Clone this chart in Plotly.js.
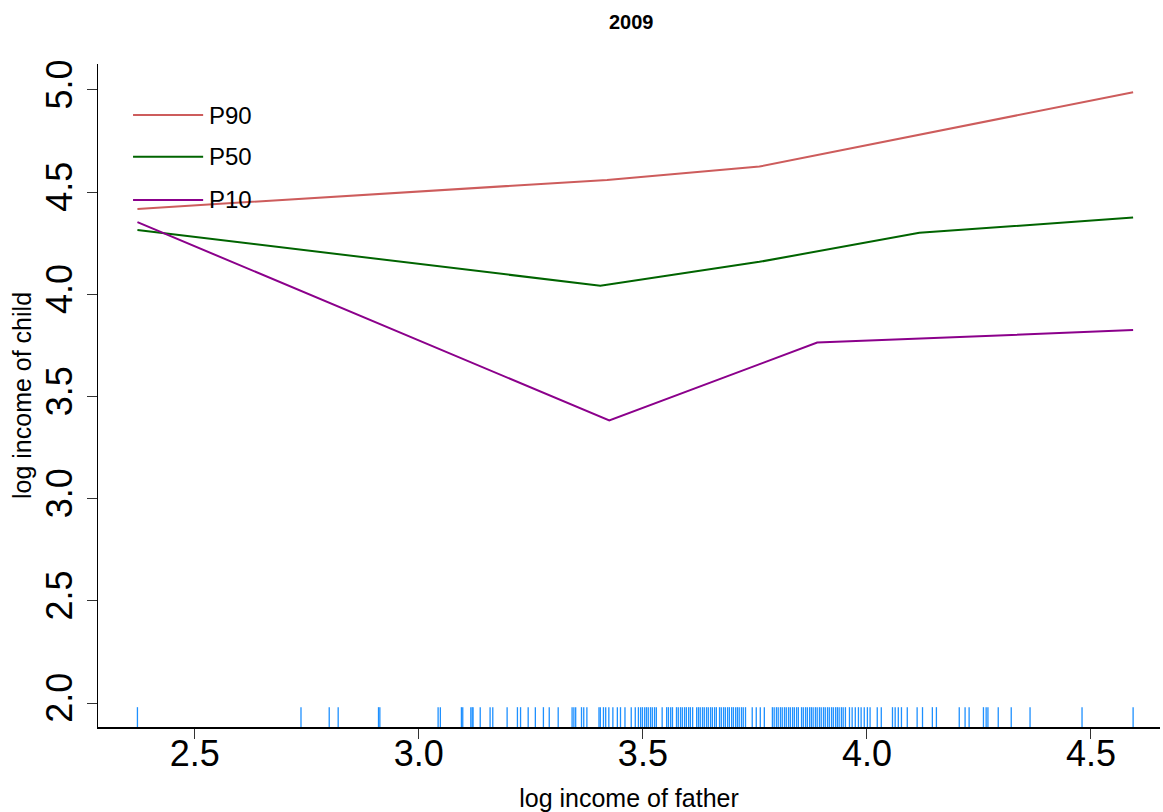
<!DOCTYPE html>
<html>
<head>
<meta charset="utf-8">
<script src="https://cdn.plot.ly/plotly-3.0.1.min.js"></script>
<style>
  html, body { margin: 0; padding: 0; background: #fff; }
  #chart { width: 1163px; height: 812px; }
</style>
</head>
<body>
<div id="chart"></div>
<script>
// Conditional quantiles of child log income by father's log income, 2009
const seriesNames = ["P90", "P50", "P10"];

const p90X = [2.372, 3.420, 3.760, 4.594];
const p90Y = [4.418, 4.560, 4.625, 4.989];

const p50X = [2.372, 3.405, 3.760, 4.117, 4.594];
const p50Y = [4.315, 4.042, 4.159, 4.301, 4.376];

const p10X = [2.372, 3.425, 3.889, 4.594];
const p10Y = [4.353, 3.383, 3.764, 3.825];

// observed father log incomes (rug)
const fatherIncome = [
  2.372, 2.737, 2.800, 2.820, 2.910, 2.913, 3.043, 3.048, 3.095, 3.098,
  3.116, 3.119, 3.121, 3.137, 3.159, 3.165, 3.197, 3.220, 3.227, 3.244,
  3.260, 3.278, 3.291, 3.311, 3.342, 3.346, 3.350, 3.363, 3.368, 3.375,
  3.402, 3.405, 3.412, 3.417, 3.424, 3.433, 3.443, 3.450, 3.460, 3.474,
  3.483, 3.490, 3.495, 3.499, 3.504, 3.508, 3.512, 3.517, 3.521, 3.526,
  3.530, 3.543, 3.553, 3.557, 3.562, 3.566, 3.575, 3.579, 3.584, 3.588,
  3.593, 3.597, 3.602, 3.606, 3.611, 3.620, 3.624, 3.628, 3.633, 3.637,
  3.642, 3.646, 3.651, 3.655, 3.660, 3.664, 3.671, 3.675, 3.680, 3.684,
  3.689, 3.693, 3.698, 3.702, 3.707, 3.711, 3.715, 3.720, 3.724, 3.729,
  3.744, 3.753, 3.762, 3.771, 3.789, 3.793, 3.798, 3.802, 3.807, 3.811,
  3.816, 3.820, 3.825, 3.829, 3.834, 3.838, 3.843, 3.847, 3.854, 3.858,
  3.863, 3.867, 3.872, 3.876, 3.880, 3.885, 3.889, 3.894, 3.898, 3.903,
  3.907, 3.912, 3.916, 3.921, 3.925, 3.930, 3.934, 3.938, 3.943, 3.947,
  3.952, 3.961, 3.967, 3.974, 3.981, 3.987, 3.994, 4.001, 4.007, 4.023,
  4.032, 4.057, 4.063, 4.070, 4.077, 4.090, 4.112, 4.124, 4.146, 4.155,
  4.206, 4.219, 4.228, 4.260, 4.266, 4.270, 4.293, 4.322, 4.364, 4.480,
  4.594
];

const xTicks = [2.5, 3.0, 3.5, 4.0, 4.5];
const yTicks = [2.0, 2.5, 3.0, 3.5, 4.0, 4.5, 5.0];

const colors = ["#CD5C5C", "#006400", "#8B008B"];
const rugColor = "#1E90FF";
const xRange = [2.284, 4.654];
const yRange = [1.883, 5.127];
const rugTop = 1.98;
const font = "Liberation Sans, Arial, sans-serif";

// rug: one short vertical segment per observation
const rugX = [], rugY = [];
fatherIncome.forEach(v => { rugX.push(v, v, null); rugY.push(yRange[0], rugTop, null); });

const traces = [
  { x: rugX, y: rugY, mode: "lines", line: { color: rugColor, width: 1.3 },
    hoverinfo: "skip", showlegend: false },
  { x: p90X, y: p90Y, name: seriesNames[0], mode: "lines",
    line: { color: colors[0], width: 2 }, showlegend: false },
  { x: p50X, y: p50Y, name: seriesNames[1], mode: "lines",
    line: { color: colors[1], width: 2 }, showlegend: false },
  { x: p10X, y: p10Y, name: seriesNames[2], mode: "lines",
    line: { color: colors[2], width: 2 }, showlegend: false }
];

// hand-drawn key in the upper left corner
const keyRows = [0.923, 0.860, 0.795];
const shapes = seriesNames.map((n, i) => ({
  type: "line", xref: "paper", yref: "paper",
  x0: 0.033, x1: 0.099, y0: keyRows[i], y1: keyRows[i],
  line: { color: colors[i], width: 2 }
}));
const annotations = seriesNames.map((n, i) => ({
  xref: "paper", yref: "paper", x: 0.103, y: keyRows[i],
  xanchor: "left", yanchor: "middle", showarrow: false,
  text: n, font: { family: font, size: 24, color: "#000" }
}));

const axisCommon = {
  showgrid: false, zeroline: false, showline: true,
  linecolor: "#000", linewidth: 1.5,
  ticks: "outside", ticklen: 10, tickwidth: 1, tickcolor: "#333",
  tickformat: ".1f",
  tickfont: { family: font, size: 36, color: "#000" }
};

const layout = {
  width: 1163, height: 812,
  paper_bgcolor: "#fff", plot_bgcolor: "#fff",
  margin: { l: 98, r: 3, t: 64, b: 85 },
  title: { text: "<b>2009</b>", x: 0.5427, xanchor: "center", y: 0.973, yanchor: "middle",
    font: { family: "Liberation Sans Narrow, Liberation Sans, Arial", size: 20, color: "#000" } },
  xaxis: Object.assign({}, axisCommon, {
    range: xRange, tickmode: "array", tickvals: xTicks,
    ticklabelstandoff: -16,
    title: { text: "log income of father", standoff: 34,
      font: { family: font, size: 25, color: "#000" } }
  }),
  yaxis: Object.assign({}, axisCommon, {
    range: yRange, tickmode: "array", tickvals: yTicks, tickangle: -90,
    title: { text: "log income of child", standoff: 0,
      font: { family: font, size: 25, color: "#000" } }
  }),
  shapes: shapes,
  annotations: annotations
};

Plotly.newPlot("chart", traces, layout, { displayModeBar: false, staticPlot: true });
</script>
</body>
</html>
